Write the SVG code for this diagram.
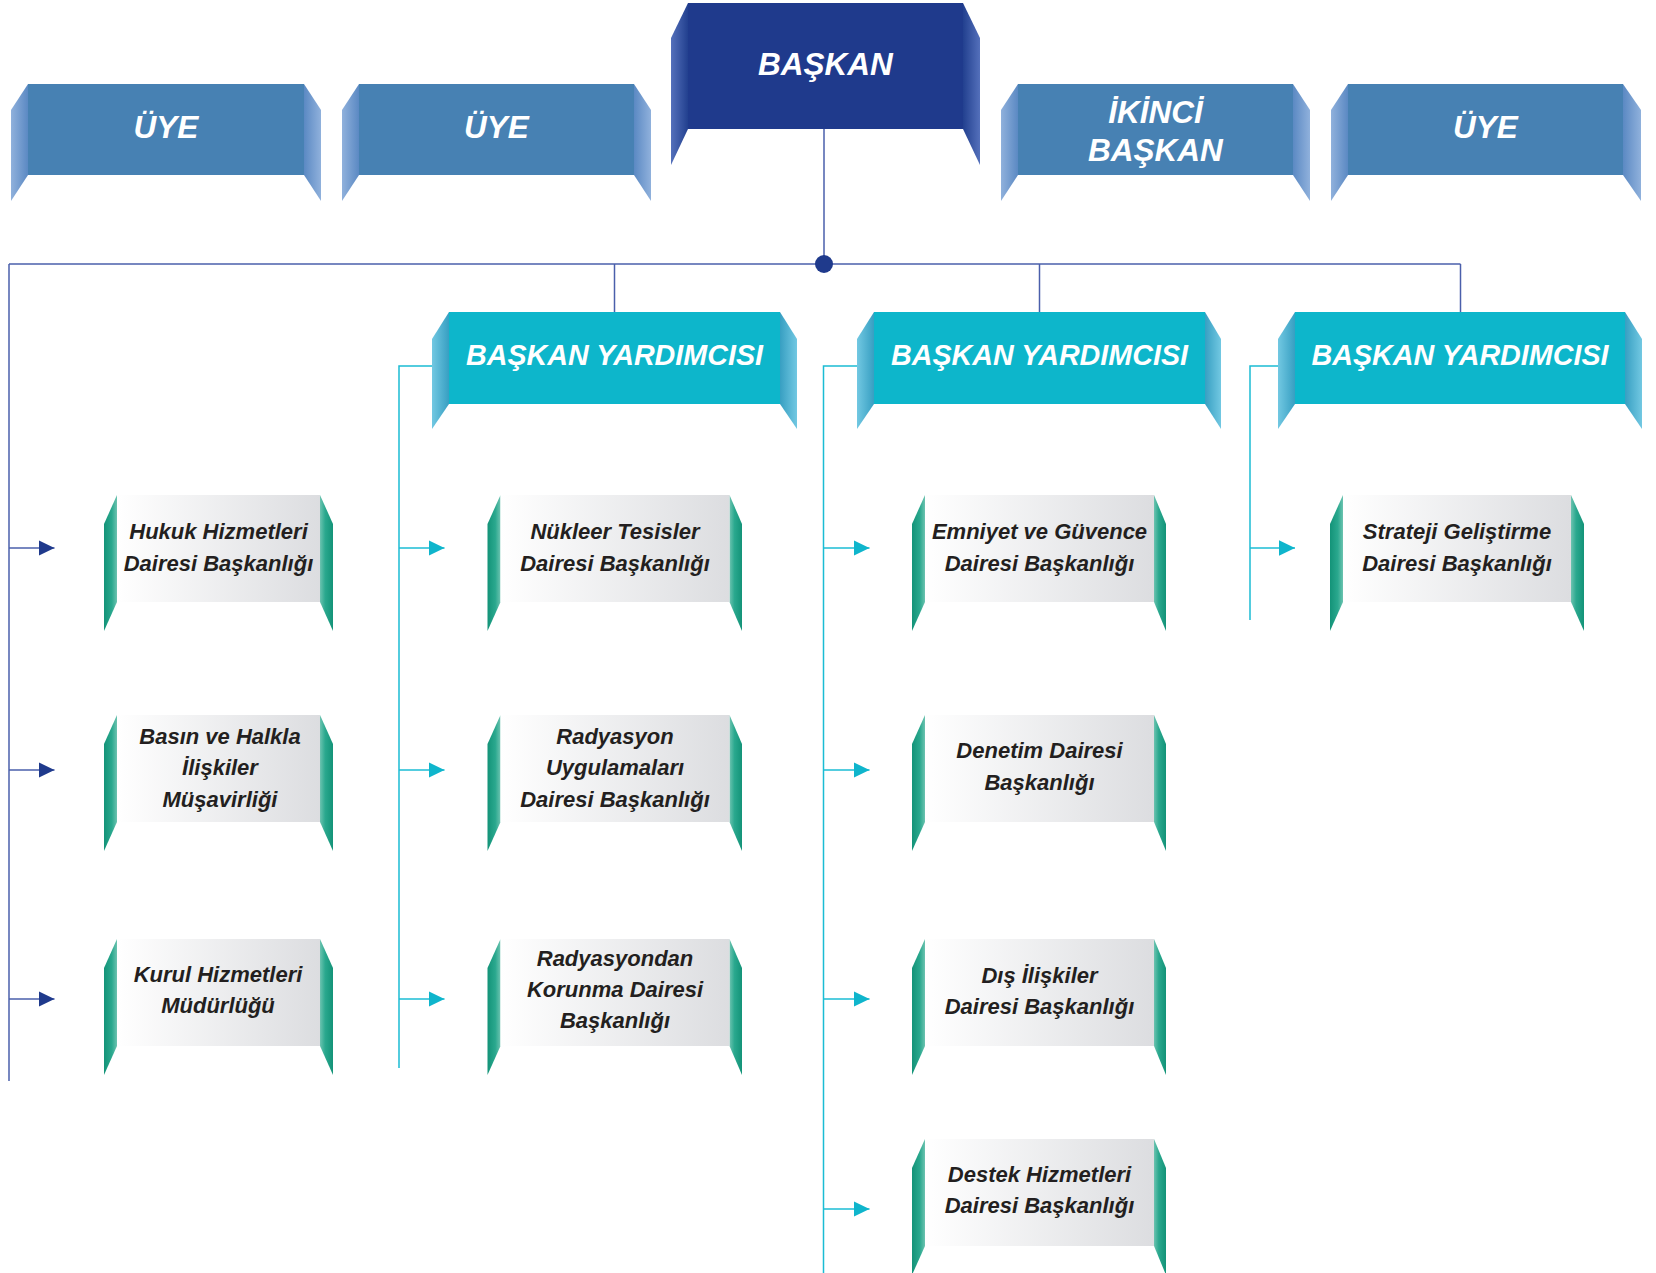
<svg xmlns="http://www.w3.org/2000/svg" width="1656" height="1273" viewBox="0 0 1656 1273">
<defs>
<style>
.hdr{font-family:"Liberation Sans",Arial,sans-serif;font-weight:bold;font-style:italic;fill:#ffffff;text-anchor:middle;font-size:31.5px}
.by{font-size:29px}
.lbl{font-family:"Liberation Sans",Arial,sans-serif;font-weight:bold;font-style:italic;fill:#231f20;text-anchor:middle;font-size:22px}
.lnd{stroke:#4a5fab;stroke-width:1.5;fill:none}
.lnc{stroke:#1bbcd4;stroke-width:1.5;fill:none}
.uye{fill:#4781b3}
.bas{fill:#1f3a8c}
.byc{fill:#0db6cb}
.sub{fill:url(#gSub)}
</style>
<linearGradient id="gUyeL" x1="0" y1="0" x2="1" y2="0"><stop offset="0" stop-color="#90b1dc"/><stop offset="1" stop-color="#5b89c3"/></linearGradient>
<linearGradient id="gUyeR" x1="0" y1="0" x2="1" y2="0"><stop offset="0" stop-color="#5b89c3"/><stop offset="1" stop-color="#90b1dc"/></linearGradient>
<linearGradient id="gBasL" x1="0" y1="0" x2="1" y2="0"><stop offset="0" stop-color="#5470bb"/><stop offset="1" stop-color="#22408f"/></linearGradient>
<linearGradient id="gBasR" x1="0" y1="0" x2="1" y2="0"><stop offset="0" stop-color="#22408f"/><stop offset="1" stop-color="#5470bb"/></linearGradient>
<linearGradient id="gByL" x1="0" y1="0" x2="1" y2="0"><stop offset="0" stop-color="#72c8e2"/><stop offset="1" stop-color="#379fc2"/></linearGradient>
<linearGradient id="gByR" x1="0" y1="0" x2="1" y2="0"><stop offset="0" stop-color="#379fc2"/><stop offset="1" stop-color="#72c8e2"/></linearGradient>
<linearGradient id="gTL" x1="0" y1="0" x2="1" y2="0"><stop offset="0" stop-color="#139378"/><stop offset="0.6" stop-color="#2aa88e"/><stop offset="1" stop-color="#6cc3b0"/></linearGradient>
<linearGradient id="gTR" x1="0" y1="0" x2="1" y2="0"><stop offset="0" stop-color="#6cc3b0"/><stop offset="0.4" stop-color="#2aa88e"/><stop offset="1" stop-color="#139378"/></linearGradient>
<linearGradient id="gSub" x1="0" y1="0" x2="1" y2="0"><stop offset="0" stop-color="#ffffff"/><stop offset="1" stop-color="#dcdde0"/></linearGradient>
<marker id="aDark" viewBox="0 0 16 16" refX="16" refY="8" markerWidth="16" markerHeight="16" markerUnits="userSpaceOnUse" orient="auto"><path d="M0,0.3 L16,8 L0,15.7 z" fill="#1f3a8c"/></marker>
<marker id="aCyan" viewBox="0 0 16 16" refX="16" refY="8" markerWidth="16" markerHeight="16" markerUnits="userSpaceOnUse" orient="auto"><path d="M0,0.3 L16,8 L0,15.7 z" fill="#0fb5cc"/></marker>
</defs>

<g id="connectors">
<path class="lnd" d="M824,129 V264"/>
<path class="lnd" d="M9,264 H1460.5"/>
<path class="lnd" d="M9,264 V1081"/>
<path class="lnd" d="M614.5,264 V312"/>
<path class="lnd" d="M1039.5,264 V312"/>
<path class="lnd" d="M1460.5,264 V312"/>
<circle cx="824" cy="264" r="9" fill="#1f3a8c"/>
<path class="lnd" d="M9,548 H54.5" marker-end="url(#aDark)"/>
<path class="lnd" d="M9,770 H54.5" marker-end="url(#aDark)"/>
<path class="lnd" d="M9,999 H54.5" marker-end="url(#aDark)"/>
<path class="lnc" d="M433,366 H399 V1068"/>
<path class="lnc" d="M399,548 H444.5" marker-end="url(#aCyan)"/>
<path class="lnc" d="M399,770 H444.5" marker-end="url(#aCyan)"/>
<path class="lnc" d="M399,999 H444.5" marker-end="url(#aCyan)"/>
<path class="lnc" d="M858,366 H823.5 V1273"/>
<path class="lnc" d="M823.5,548 H869.5" marker-end="url(#aCyan)"/>
<path class="lnc" d="M823.5,770 H869.5" marker-end="url(#aCyan)"/>
<path class="lnc" d="M823.5,999 H869.5" marker-end="url(#aCyan)"/>
<path class="lnc" d="M823.5,1209 H869.5" marker-end="url(#aCyan)"/>
<path class="lnc" d="M1279,366 H1250 V620"/>
<path class="lnc" d="M1250,548 H1295" marker-end="url(#aCyan)"/>
</g>

<g id="uye1">
<polygon points="28,84 11,110 11,201 28,175" fill="url(#gUyeL)"/>
<polygon points="304,84 321,110 321,201 304,175" fill="url(#gUyeR)"/>
<rect class="uye" x="28" y="84" width="276" height="91"/>
<text class="hdr" x="166" y="138">ÜYE</text>
</g>
<g id="uye2">
<polygon points="359,84 342,110 342,201 359,175" fill="url(#gUyeL)"/>
<polygon points="634,84 651,110 651,201 634,175" fill="url(#gUyeR)"/>
<rect class="uye" x="359" y="84" width="275" height="91"/>
<text class="hdr" x="496.5" y="138">ÜYE</text>
</g>
<g id="baskan">
<polygon points="688,3 671,38 671,165 688,129" fill="url(#gBasL)"/>
<polygon points="963,3 980,38 980,165 963,129" fill="url(#gBasR)"/>
<rect class="bas" x="688" y="3" width="275" height="126"/>
<text class="hdr" x="825.5" y="75">BAŞKAN</text>
</g>
<g id="ikinci-baskan">
<polygon points="1018,84 1001,110 1001,201 1018,175" fill="url(#gUyeL)"/>
<polygon points="1293,84 1310,110 1310,201 1293,175" fill="url(#gUyeR)"/>
<rect class="uye" x="1018" y="84" width="275" height="91"/>
<text class="hdr" x="1155.5" y="123">İKİNCİ</text>
<text class="hdr" x="1155.5" y="160.5">BAŞKAN</text>
</g>
<g id="uye4">
<polygon points="1348,84 1331,110 1331,201 1348,175" fill="url(#gUyeL)"/>
<polygon points="1623,84 1641,110 1641,201 1623,175" fill="url(#gUyeR)"/>
<rect class="uye" x="1348" y="84" width="275" height="91"/>
<text class="hdr" x="1485.5" y="138">ÜYE</text>
</g>

<g id="by1">
<polygon points="449,312 432,339 432,429 449,404" fill="url(#gByL)"/>
<polygon points="780,312 797,339 797,429 780,404" fill="url(#gByR)"/>
<rect class="byc" x="449" y="312" width="331" height="92"/>
<text class="hdr by" x="614.5" y="365" textLength="297" lengthAdjust="spacingAndGlyphs">BAŞKAN YARDIMCISI</text>
</g>
<g id="by2">
<polygon points="874,312 857,339 857,429 874,404" fill="url(#gByL)"/>
<polygon points="1205,312 1221,339 1221,429 1205,404" fill="url(#gByR)"/>
<rect class="byc" x="874" y="312" width="331" height="92"/>
<text class="hdr by" x="1039.5" y="365" textLength="297" lengthAdjust="spacingAndGlyphs">BAŞKAN YARDIMCISI</text>
</g>
<g id="by3">
<polygon points="1295,312 1278,339 1278,429 1295,404" fill="url(#gByL)"/>
<polygon points="1625,312 1642,339 1642,429 1625,404" fill="url(#gByR)"/>
<rect class="byc" x="1295" y="312" width="330" height="92"/>
<text class="hdr by" x="1460" y="365" textLength="297" lengthAdjust="spacingAndGlyphs">BAŞKAN YARDIMCISI</text>
</g>

<g id="hukuk">
<polygon points="117,495 104,524 104,631 117,602" fill="url(#gTL)"/>
<polygon points="320,495 333,524 333,631 320,602" fill="url(#gTR)"/>
<rect class="sub" x="117" y="495" width="203" height="107"/>
<text class="lbl" x="218.5" y="539">Hukuk Hizmetleri</text>
<text class="lbl" x="218.5" y="570.5">Dairesi Başkanlığı</text>
</g>
<g id="basin">
<polygon points="117,715 104,744 104,851 117,822" fill="url(#gTL)"/>
<polygon points="320,715 333,744 333,851 320,822" fill="url(#gTR)"/>
<rect class="sub" x="117" y="715" width="203" height="107"/>
<text class="lbl" x="220" y="743.5">Basın ve Halkla</text>
<text class="lbl" x="220" y="775">İlişkiler</text>
<text class="lbl" x="220" y="806.5">Müşavirliği</text>
</g>
<g id="kurul">
<polygon points="117,939 104,968 104,1075 117,1046" fill="url(#gTL)"/>
<polygon points="320,939 333,968 333,1075 320,1046" fill="url(#gTR)"/>
<rect class="sub" x="117" y="939" width="203" height="107"/>
<text class="lbl" x="218" y="981.5">Kurul Hizmetleri</text>
<text class="lbl" x="218" y="1013">Müdürlüğü</text>
</g>

<g id="nukleer">
<polygon points="500.5,495 487.5,524 487.5,631 500.5,602" fill="url(#gTL)"/>
<polygon points="729.5,495 742,524 742,631 729.5,602" fill="url(#gTR)"/>
<rect class="sub" x="500.5" y="495" width="229" height="107"/>
<text class="lbl" x="615" y="539">Nükleer Tesisler</text>
<text class="lbl" x="615" y="570.5">Dairesi Başkanlığı</text>
</g>
<g id="radyasyon-uyg">
<polygon points="500.5,715 487.5,744 487.5,851 500.5,822" fill="url(#gTL)"/>
<polygon points="729.5,715 742,744 742,851 729.5,822" fill="url(#gTR)"/>
<rect class="sub" x="500.5" y="715" width="229" height="107"/>
<text class="lbl" x="615" y="743.5">Radyasyon</text>
<text class="lbl" x="615" y="775">Uygulamaları</text>
<text class="lbl" x="615" y="806.5">Dairesi Başkanlığı</text>
</g>
<g id="radyasyondan">
<polygon points="500.5,939 487.5,968 487.5,1075 500.5,1046" fill="url(#gTL)"/>
<polygon points="729.5,939 742,968 742,1075 729.5,1046" fill="url(#gTR)"/>
<rect class="sub" x="500.5" y="939" width="229" height="107"/>
<text class="lbl" x="615" y="966">Radyasyondan</text>
<text class="lbl" x="615" y="997">Korunma Dairesi</text>
<text class="lbl" x="615" y="1028">Başkanlığı</text>
</g>

<g id="emniyet">
<polygon points="925,495 912,524 912,631 925,602" fill="url(#gTL)"/>
<polygon points="1154,495 1166,524 1166,631 1154,602" fill="url(#gTR)"/>
<rect class="sub" x="925" y="495" width="229" height="107"/>
<text class="lbl" x="1039.5" y="539">Emniyet ve Güvence</text>
<text class="lbl" x="1039.5" y="570.5">Dairesi Başkanlığı</text>
</g>
<g id="denetim">
<polygon points="925,715 912,744 912,851 925,822" fill="url(#gTL)"/>
<polygon points="1154,715 1166,744 1166,851 1154,822" fill="url(#gTR)"/>
<rect class="sub" x="925" y="715" width="229" height="107"/>
<text class="lbl" x="1039.5" y="758">Denetim Dairesi</text>
<text class="lbl" x="1039.5" y="789.5">Başkanlığı</text>
</g>
<g id="dis-iliskiler">
<polygon points="925,939 912,968 912,1075 925,1046" fill="url(#gTL)"/>
<polygon points="1154,939 1166,968 1166,1075 1154,1046" fill="url(#gTR)"/>
<rect class="sub" x="925" y="939" width="229" height="107"/>
<text class="lbl" x="1039.5" y="983">Dış İlişkiler</text>
<text class="lbl" x="1039.5" y="1014">Dairesi Başkanlığı</text>
</g>
<g id="destek">
<polygon points="925,1139 912,1168 912,1275 925,1246" fill="url(#gTL)"/>
<polygon points="1154,1139 1166,1168 1166,1275 1154,1246" fill="url(#gTR)"/>
<rect class="sub" x="925" y="1139" width="229" height="107"/>
<text class="lbl" x="1039.5" y="1181.5">Destek Hizmetleri</text>
<text class="lbl" x="1039.5" y="1213">Dairesi Başkanlığı</text>
</g>

<g id="strateji">
<polygon points="1343,495 1330,524 1330,631 1343,602" fill="url(#gTL)"/>
<polygon points="1571,495 1584,524 1584,631 1571,602" fill="url(#gTR)"/>
<rect class="sub" x="1343" y="495" width="228" height="107"/>
<text class="lbl" x="1457" y="539">Strateji Geliştirme</text>
<text class="lbl" x="1457" y="570.5">Dairesi Başkanlığı</text>
</g>
</svg>
